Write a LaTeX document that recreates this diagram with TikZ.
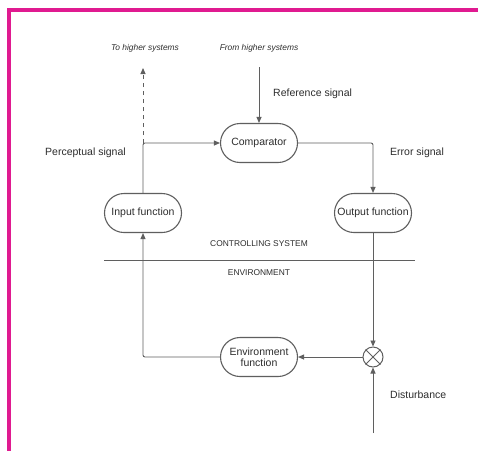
\documentclass[tikz,border=0pt]{standalone}
\usepackage{fontspec}
\setmainfont{Liberation Sans}
\usetikzlibrary{shapes.misc,arrows.meta}
\definecolor{pinkb}{RGB}{224,26,144}
\definecolor{ln}{RGB}{95,95,95}
\definecolor{tx}{RGB}{45,45,45}
\tikzset{
  fbox/.style={rounded rectangle,draw=ln,line width=1.1pt,minimum width=79pt,minimum height=39pt,inner sep=1pt,text=tx,font=\fontsize{10.5}{12}\selectfont,align=center},
  conn/.style={draw=ln,line width=0.9pt,-{Triangle[length=6pt,width=5pt]}},
  plain/.style={draw=ln,line width=0.9pt},
  lab/.style={text=tx,font=\fontsize{10.5}{12}\selectfont,inner sep=0pt},
  small/.style={text=tx,font=\fontsize{8.4}{9}\selectfont,inner sep=0pt},
}
\begin{document}
\begin{tikzpicture}[x=1pt,y=-1pt]
\useasboundingbox (0,0) rectangle (478,450);
\fill[white] (0,0) rectangle (478,450);
\draw[pinkb,line width=4pt] (9,452) -- (9,10) -- (480,10);
% nodes
\node[fbox] (cmp) at (259,143) {Comparator};
\node[fbox] (inp) at (143,213) {Input function};
\node[fbox] (out) at (373,213) {Output function};
\node[fbox] (env) at (259,357) {Environment\\[-1pt]function};
\node[circle,draw=ln,line width=1pt,minimum size=20pt,inner sep=0pt] (sum) at (373,357) {};
\draw[ln,line width=0.9pt] (sum.north west) -- (sum.south east) (sum.north east) -- (sum.south west);
% labels
\node[small,font=\fontsize{8.4}{9}\selectfont\itshape] (toh) at (145,48) {To higher systems};
\node[small,font=\fontsize{8.4}{9}\selectfont\itshape] (fromh) at (259,48) {From higher systems};
\node[lab,anchor=west] (refl) at (273,94) {Reference signal};
\node[lab,anchor=west] (perl) at (45,153) {Perceptual signal};
\node[lab,anchor=west] (errl) at (390,153) {Error signal};
\node[lab,anchor=west] (disl) at (390,395) {Disturbance};
\node[small] (ctrl) at (259,244) {CONTROLLING SYSTEM};
\node[small] (envl) at (259,273) {ENVIRONMENT};
% coordinates
\coordinate (toptip) at (143,68);
\coordinate (corner) at (143,143);
\coordinate (refstart) at (259,67);
\coordinate (divl) at (104,260);
\coordinate (divr) at (415,260);
\coordinate (diststart) at (373,433);
% connectors
\draw[plain,dash pattern=on 4pt off 4pt,-{Triangle[length=6pt,width=5pt]}] (corner) -- (toptip);
\draw[conn] (refstart) -- (cmp.north);
\draw[conn,rounded corners=2pt] (inp.north) |- (cmp.west);
\draw[conn,rounded corners=2pt] (cmp.east) -| (out.north);
\draw[conn] (out.south) -- (sum.north);
\draw[conn] (sum.west) -- (env.east);
\draw[conn,rounded corners=2pt] (env.west) -| (inp.south);
\draw[conn] (diststart) -- (sum.south);
\draw[ln,line width=0.8pt] (divl) -- (divr);
\end{tikzpicture}
\end{document}
